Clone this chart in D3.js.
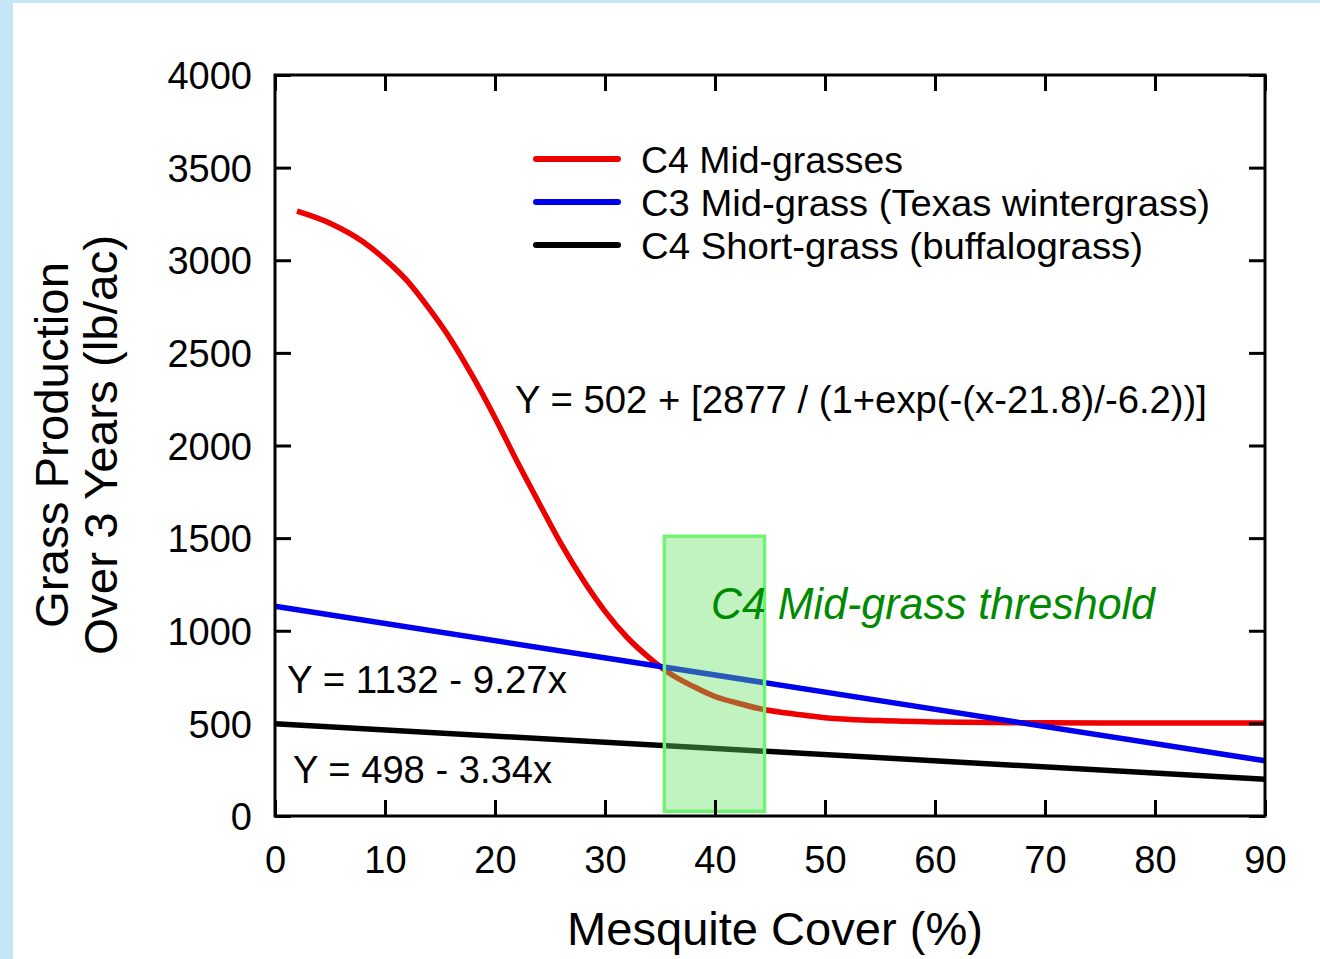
<!DOCTYPE html>
<html>
<head>
<meta charset="utf-8">
<script src="https://cdn.jsdelivr.net/npm/d3@7"></script>
<style>
  html, body { margin: 0; padding: 0; background: #ffffff; }
  svg { display: block; }
  text { font-family: "Liberation Sans", Arial, sans-serif; fill: #000; }
</style>
</head>
<body>
<svg id="chart" width="1320" height="959"></svg>
<script>
// ---------- data ----------
const xTicks = [0, 10, 20, 30, 40, 50, 60, 70, 80, 90];
const yTicks = [0, 500, 1000, 1500, 2000, 2500, 3000, 3500, 4000];

const c4MidX = [2, 5, 8, 10, 12, 14, 16, 18, 20, 22, 24, 26, 28, 30, 32, 34, 36, 38, 40, 42, 44, 46, 48, 50, 55, 60, 70, 80, 90];
const c4MidY = [3265, 3200, 3100, 3005, 2890, 2740, 2570, 2370, 2150, 1915, 1690, 1470, 1275, 1105, 965, 855, 765, 700, 645, 610, 580, 560, 545, 530, 515, 508, 503, 502, 502];

const c3MidX = [0, 90];
const c3MidY = [1132, 298];

const c4ShortX = [0, 90];
const c4ShortY = [498, 198];

const seriesNames = ["C4 Mid-grasses", "C3 Mid-grass (Texas wintergrass)", "C4 Short-grass (buffalograss)"];
const seriesColors = ["#ee0000", "#0000ee", "#000000"];

const thresholdX = [35.4, 44.5];
const thresholdY = [25, 1510];

const eqC4Mid = "Y = 502 + [2877 / (1+exp(-(x-21.8)/-6.2))]";
const eqC3Mid = "Y = 1132 - 9.27x";
const eqC4Short = "Y = 498 - 3.34x";
const thresholdLabel = "C4 Mid-grass threshold";
const xTitle = "Mesquite Cover (%)";
const yTitle = ["Grass Production", "Over 3 Years (lb/ac)"];

// ---------- layout ----------
const W = 1320, H = 959;
const plot = { left: 275, right: 1265, top: 75, bottom: 816 };

const svg = d3.select("#chart");

// background
svg.append("rect").attr("x", 0).attr("y", 0).attr("width", W).attr("height", H).attr("fill", "#c5e6f5");
svg.append("rect").attr("x", 13).attr("y", 3).attr("width", W - 13).attr("height", H - 3).attr("fill", "#ffffff");

const x = d3.scaleLinear().domain([0, 90]).range([plot.left, plot.right]);
const y = d3.scaleLinear().domain([0, 4000]).range([plot.bottom, plot.top]);

const line = d3.line().x(d => x(d[0])).y(d => y(d[1]));
const curve = d3.line().x(d => x(d[0])).y(d => y(d[1])).curve(d3.curveMonotoneX);

const c4Mid = c4MidX.map((v, i) => [v, c4MidY[i]]);
const c3Mid = c3MidX.map((v, i) => [v, c3MidY[i]]);
const c4Short = c4ShortX.map((v, i) => [v, c4ShortY[i]]);

const lw = 5.5;
// series lines
svg.append("path").attr("d", curve(c4Mid)).attr("fill", "none")
  .attr("stroke", seriesColors[0]).attr("stroke-width", lw).attr("stroke-linecap", "butt");
svg.append("path").attr("d", line(c3Mid)).attr("fill", "none")
  .attr("stroke", seriesColors[1]).attr("stroke-width", lw);
svg.append("path").attr("d", line(c4Short)).attr("fill", "none")
  .attr("stroke", seriesColors[2]).attr("stroke-width", lw);

// threshold box
svg.append("rect")
  .attr("x", x(thresholdX[0])).attr("y", y(thresholdY[1]))
  .attr("width", x(thresholdX[1]) - x(thresholdX[0]))
  .attr("height", y(thresholdY[0]) - y(thresholdY[1]))
  .attr("fill", "rgb(100,225,100)").attr("fill-opacity", 0.4)
  .attr("stroke", "#72f272").attr("stroke-width", 3.5);

// axes (inward ticks on all four sides)
const tickLen = 16;
const gB = svg.append("g").attr("transform", `translate(0,${plot.bottom})`)
  .call(d3.axisBottom(x).tickValues(xTicks).tickSize(-tickLen).tickPadding(30).tickFormat(d3.format("d")));
const gT = svg.append("g").attr("transform", `translate(0,${plot.top})`)
  .call(d3.axisTop(x).tickValues(xTicks).tickSize(-tickLen).tickFormat(""));
const gL = svg.append("g").attr("transform", `translate(${plot.left},0)`)
  .call(d3.axisLeft(y).tickValues(yTicks).tickSize(-tickLen).tickPadding(23).tickFormat(d3.format("d")));
const gR = svg.append("g").attr("transform", `translate(${plot.right},0)`)
  .call(d3.axisRight(y).tickValues(yTicks).tickSize(-tickLen).tickFormat(""));

[gB, gT, gL, gR].forEach(g => {
  g.select(".domain").remove();
  g.selectAll(".tick line").attr("stroke", "#000").attr("stroke-width", 3);
  g.selectAll(".tick text").attr("font-size", 38).attr("font-family", "'Liberation Sans', Arial, sans-serif").attr("fill", "#000");
});
gL.selectAll(".tick text").attr("dy", "0.36em");

// frame
svg.append("rect").attr("x", plot.left).attr("y", plot.top)
  .attr("width", plot.right - plot.left).attr("height", plot.bottom - plot.top)
  .attr("fill", "none").attr("stroke", "#000").attr("stroke-width", 3);

// axis titles
svg.append("text").attr("x", 775).attr("y", 945).attr("text-anchor", "middle")
  .attr("font-size", 46).attr("textLength", 416).attr("lengthAdjust", "spacingAndGlyphs").text(xTitle);

const yt = svg.append("g").attr("transform", "translate(0,445) rotate(-90)");
yt.append("text").attr("x", 0).attr("y", 68).attr("text-anchor", "middle")
  .attr("font-size", 46).attr("textLength", 366).attr("lengthAdjust", "spacingAndGlyphs").text(yTitle[0]);
yt.append("text").attr("x", 0).attr("y", 117).attr("text-anchor", "middle")
  .attr("font-size", 46).attr("textLength", 420).attr("lengthAdjust", "spacingAndGlyphs").text(yTitle[1]);

// legend
const legY = [159, 202, 245];
const legW = [262, 569, 502];
seriesNames.forEach((name, i) => {
  svg.append("line").attr("x1", 536).attr("x2", 618).attr("y1", legY[i]).attr("y2", legY[i])
    .attr("stroke", seriesColors[i]).attr("stroke-width", 6).attr("stroke-linecap", "round");
  svg.append("text").attr("x", 641).attr("y", legY[i] + 13.5)
    .attr("font-size", 37).attr("textLength", legW[i]).attr("lengthAdjust", "spacingAndGlyphs").text(name);
});

// equations
svg.append("text").attr("x", 515).attr("y", 413).attr("font-size", 38)
  .attr("textLength", 692).attr("lengthAdjust", "spacingAndGlyphs").text(eqC4Mid);
svg.append("text").attr("x", 287).attr("y", 693).attr("font-size", 38)
  .attr("textLength", 280).attr("lengthAdjust", "spacingAndGlyphs").text(eqC3Mid);
svg.append("text").attr("x", 293).attr("y", 783).attr("font-size", 38)
  .attr("textLength", 259).attr("lengthAdjust", "spacingAndGlyphs").text(eqC4Short);

// threshold label
svg.append("text").attr("x", 711).attr("y", 619)
  .attr("font-family", "Lato, 'Open Sans', sans-serif").attr("font-style", "italic")
  .attr("font-size", 45).attr("fill", "#008a00").style("fill", "#008a00")
  .attr("textLength", 444).attr("lengthAdjust", "spacingAndGlyphs").text(thresholdLabel);
</script>
</body>
</html>
